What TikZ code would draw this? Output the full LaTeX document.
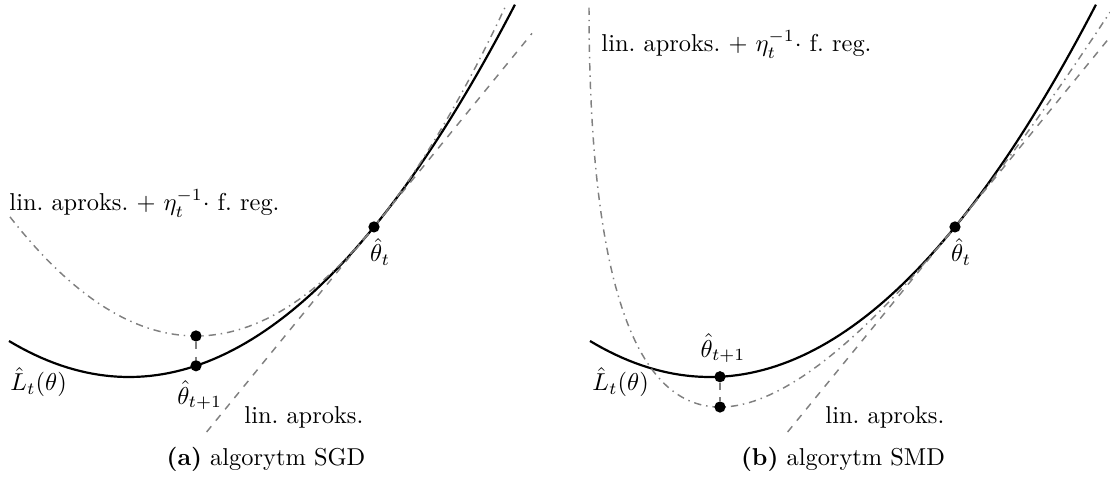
\documentclass[tikz,border=0pt]{standalone}
\usetikzlibrary{positioning}
\begin{document}
\begin{tikzpicture}[x=1.44cm, y=1.44cm]
  % Parameters
  \def\thetat{2.45}    % current point
  \def\thetanext{0.67} % SGD step
  \def\xleft{-1.20}
  \def\xright{3.86}
  \pgfmathsetmacro\Lt{0.25*\thetat*\thetat}
  \pgfmathsetmacro\grad{0.5*\thetat}
  \pgfmathsetmacro\xlow{\thetat-(\Lt+0.55)/\grad}
  \pgfmathsetmacro\kreg{\grad/(2*(\thetat-\thetanext))}
  % SMD: regulariser -2 sqrt(theta - \xo)
  \def\xo{-1.21}
  \def\smdnext{0.10}
  \pgfmathsetmacro\st{\thetat-\xo}
  \pgfmathsetmacro\creg{\grad/(1/sqrt(\smdnext-\xo)-1/sqrt(\st))}
  \pgfmathsetmacro\smin{\Lt+\grad*(\smdnext-\thetat)+\creg*(-2*sqrt(\smdnext-\xo)+2*sqrt(\st)+(\smdnext-\thetat)/sqrt(\st))}

  % Styles
  \tikzset{
    loss/.style={line width=0.9pt},
    linapprox/.style={gray, semithick, dashed},
    model/.style={gray, semithick, dash dot},
    dot/.style={circle, fill, inner sep=0pt, minimum size=4.6pt},
    lbl/.style={inner sep=0pt},
  }

  \useasboundingbox (0,0) rectangle (11.10,4.97);

  % (a) SGD
  \begin{scope}[shift={(1.29,1.20)}]
    \draw[loss, domain=\xleft:\xright, samples=80] plot (\x, {0.25*(\x)*(\x)});
    \draw[linapprox] (\xlow,-0.55) -- (4.03, {\Lt+\grad*(4.03-\thetat)});
    \draw[model, domain=-1.19:3.77, samples=80]
      plot (\x, {\Lt+\grad*(\x-\thetat)+\kreg*(\x-\thetat)*(\x-\thetat)});

    \node[dot] (ta) at (\thetat,\Lt) {};
    \node[dot] (na) at (\thetanext,{0.25*\thetanext*\thetanext}) {};
    \node[dot] (ma) at (\thetanext,{\Lt-\grad*(\thetat-\thetanext)/2}) {};
    \draw[linapprox] (ma) -- (na);

    \node[lbl, below=2pt of ta, xshift=2.5pt] (tal) {$\hat\theta_t$};
    \node[lbl, below=3.5pt of na, xshift=1.5pt] (nal) {$\hat\theta_{t+1}$};
    \node[lbl, anchor=base west] (lossa) at (-1.19,-0.14) {$\hat L_t(\theta)$};
    \node[lbl, anchor=base west] (lina) at (1.15,-0.47) {lin.\ aproks.};
    \node[lbl, anchor=base west] (modela) at (-1.20,1.66) {lin.\ aproks.\ $+$ $\eta_t^{-1}\cdot$ f.\ reg.};
  \end{scope}

  % (b) SMD
  \begin{scope}[shift={(7.10,1.20)}]
    \draw[loss, domain=\xleft:\xright, samples=80] plot (\x, {0.25*(\x)*(\x)});
    \draw[linapprox] (\xlow,-0.55) -- (4.00, {\Lt+\grad*(4.00-\thetat)});
    \draw[model, variable=\u, domain=0:2.2825, samples=120]
      plot ({\xo+\u*\u}, {\Lt+\grad*(\u*\u-\st)+\creg*(-2*\u+2*sqrt(\st)+(\u*\u-\st)/sqrt(\st))});

    \node[dot] (tb) at (\thetat,\Lt) {};
    \node[dot] (nb) at (\smdnext,{0.25*\smdnext*\smdnext}) {};
    \node[dot] (mb) at (\smdnext,\smin) {};
    \draw[linapprox] (nb) -- (mb);

    \node[lbl, below=2pt of tb, xshift=2.5pt] (tbl) {$\hat\theta_t$};
    \node[lbl, above=3pt of nb, xshift=1.2pt] (nbl) {$\hat\theta_{t+1}$};
    \node[lbl, anchor=base west] (lossb) at (-1.18,-0.14) {$\hat L_t(\theta)$};
    \node[lbl, anchor=base west] (linb) at (1.15,-0.47) {lin.\ aproks.};
    \node[lbl, anchor=base west] (modelb) at (-1.09,3.25) {lin.\ aproks.\ $+$ $\eta_t^{-1}\cdot$ f.\ reg.};
  \end{scope}

  % Captions
  \node[anchor=base] (capa) at (2.66,0.31) {\textbf{(a)} algorytm SGD};
  \node[anchor=base] (capb) at (8.43,0.31) {\textbf{(b)} algorytm SMD};
\end{tikzpicture}
\end{document}
